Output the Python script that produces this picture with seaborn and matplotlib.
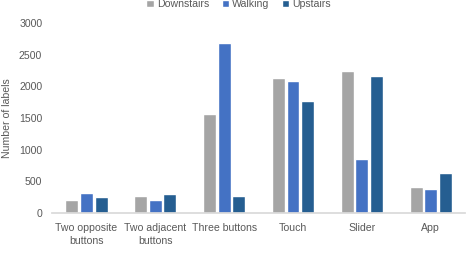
import matplotlib
matplotlib.use("Agg")
import matplotlib.pyplot as plt
import seaborn as sns
import pandas as pd

categories = ["Two opposite\nbuttons", "Two adjacent\nbuttons", "Three buttons", "Touch", "Slider", "App"]
downstairs = [200, 270, 1570, 2130, 2250, 410]
walking = [310, 200, 2680, 2080, 850, 380]
upstairs = [260, 300, 270, 1770, 2160, 640]
series = ["Downstairs", "Walking", "Upstairs"]
colors = ["#A5A5A5", "#4472C4", "#255E91"]
yticks = [0, 500, 1000, 1500, 2000, 2500, 3000]

rows = []
for name, vals in zip(series, [downstairs, walking, upstairs]):
    for c, v in zip(categories, vals):
        rows.append({"cat": c, "series": name, "value": v})
df = pd.DataFrame(rows)

sns.set_theme(style="white")
plt.rcParams['font.family'] = ['Liberation Sans', 'DejaVu Sans']

fig = plt.figure(figsize=(4.68, 2.54), dpi=100)
ax = fig.add_axes([0.111, 0.161, 0.883, 0.748])
sns.barplot(data=df, x="cat", y="value", hue="series", hue_order=series,
            order=categories, palette=colors, width=0.64, gap=0.12, ax=ax,
            saturation=1, legend=True)
ax.set_ylim(0, 3000)
ax.set_yticks(yticks)
ax.set_xlim(-0.5, 5.5)
for s in ["top", "right", "left"]:
    ax.spines[s].set_visible(False)
ax.spines["bottom"].set_color("#D9D9D9")
ax.tick_params(axis="both", labelsize=7.6, colors="#595959", length=0)
ax.tick_params(axis="x", pad=7)
ax.tick_params(axis="y", pad=7)
for t in ax.get_xticklabels():
    t.set_linespacing(1.35)
ax.set_xlabel("")
ax.set_ylabel("Number of labels", fontsize=7.6, color="#595959")
ax.yaxis.set_label_coords(-0.097, 0.5)
ax.legend_.remove()
handles, labels = ax.get_legend_handles_labels()
fig.legend(handles, labels, loc="upper center", bbox_to_anchor=(0.51, 1.04), ncol=3,
           frameon=False, fontsize=7.6, handlelength=0.7, handleheight=0.7,
           handletextpad=0.3, columnspacing=1.2, labelcolor="#595959")
fig.savefig("out.png", dpi=100)
